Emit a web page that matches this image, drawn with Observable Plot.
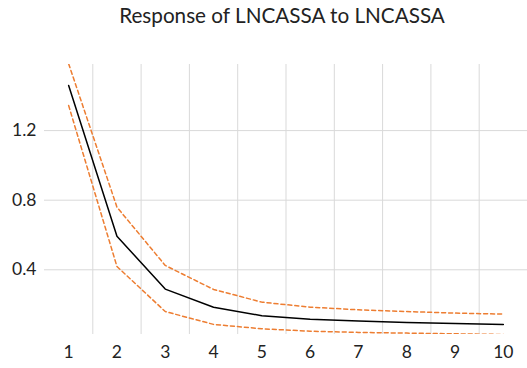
<!DOCTYPE html>
<html>
<head>
<meta charset="utf-8">
<script src="https://cdn.jsdelivr.net/npm/d3@7"></script>
<script src="https://cdn.jsdelivr.net/npm/@observablehq/plot@0.6"></script>
<style>
  html, body { margin: 0; padding: 0; background: #fff; }
  #title { height: 40px; width: 527px; font-family: Lato, sans-serif; font-size: 20.7px; color: #222; text-align: center; line-height: 30px; padding-left: 37px; box-sizing: border-box; }
</style>
</head>
<body>
<div id="title">Response of LNCASSA to LNCASSA</div>
<div id="chart"></div>
<script>
const periods = [1, 2, 3, 4, 5, 6, 7, 8, 9, 10];
const response = [1.459, 0.593, 0.289, 0.185, 0.136, 0.116, 0.105, 0.097, 0.091, 0.086];
const upperBand = [1.584, 0.760, 0.425, 0.287, 0.214, 0.185, 0.170, 0.160, 0.151, 0.145];
const lowerBand = [1.344, 0.419, 0.160, 0.086, 0.061, 0.047, 0.040, 0.036, 0.032, 0.028];
const yTicks = [0.4, 0.8, 1.2];

const rows = periods.map((p, i) => ({p, r: response[i], u: upperBand[i], l: lowerBand[i]}));
const vGrid = periods.map(p => p + 0.5);

const chart = Plot.plot({
  width: 527,
  height: 328,
  marginLeft: 44,
  marginRight: 0,
  marginTop: 24,
  marginBottom: 34,
  style: {fontFamily: "Lato, sans-serif", fontSize: "17.5px", color: "#222", background: "#fff"},
  x: {domain: [0.5, 10.5], ticks: periods, tickFormat: d => String(d), tickSize: 0, tickPadding: 11, label: null},
  y: {domain: [0.028, 1.58], ticks: yTicks, tickFormat: d => d.toFixed(1), tickSize: 0, tickPadding: 8, label: null},
  marks: [
    Plot.gridY(yTicks, {stroke: "#d9d9d9", strokeOpacity: 1, strokeWidth: 1}),
    Plot.ruleX(vGrid, {stroke: "#d9d9d9", strokeWidth: 1}),
    Plot.lineY(rows, {x: "p", y: "u", stroke: "#ED7D31", strokeWidth: 1.5, strokeDasharray: "4,3", clip: true}),
    Plot.lineY(rows, {x: "p", y: "l", stroke: "#ED7D31", strokeWidth: 1.5, strokeDasharray: "4,3", clip: true}),
    Plot.lineY(rows, {x: "p", y: "r", stroke: "#000", strokeWidth: 1.5, clip: true})
  ]
});
document.getElementById("chart").appendChild(chart);
</script>
</body>
</html>
